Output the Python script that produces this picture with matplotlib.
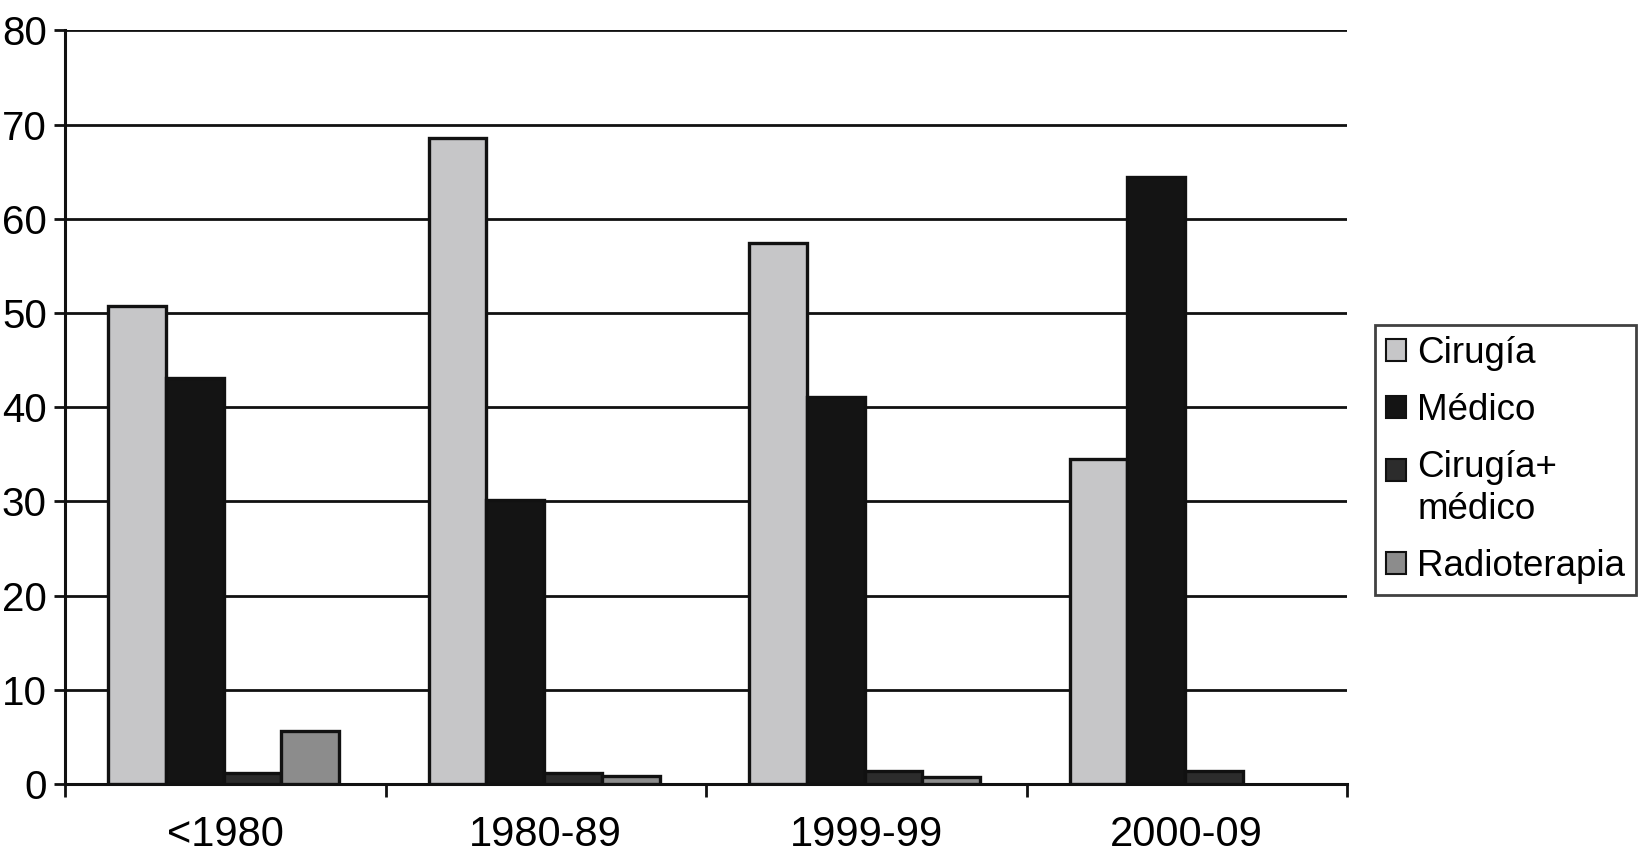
import matplotlib
matplotlib.use("Agg")
import matplotlib.pyplot as plt
import numpy as np

categories = ["<1980", "1980-89", "1999-99", "2000-09"]
series_names = ["Cirugía", "Médico", "Cirugía+\nmédico", "Radioterapia"]
cirugia = [50.7, 68.6, 57.4, 34.5]
medico = [43.1, 30.1, 41.1, 64.4]
cirugia_medico = [1.2, 1.2, 1.4, 1.4]
radioterapia = [5.6, 0.8, 0.7, 0.0]
colors = ["#c6c6c8", "#141414", "#2c2c2c", "#8c8c8c"]

plt.rcParams['font.family'] = ['Liberation Sans', 'DejaVu Sans']

fig = plt.figure(figsize=(16.46, 8.61), dpi=100)
ax = fig.add_axes([65/1646, 1 - 784/861, (1347-65)/1646, (784-30.5)/861])

x = np.arange(len(categories))
width = 0.18
all_series = [cirugia, medico, cirugia_medico, radioterapia]
for i, (vals, name, col) in enumerate(zip(all_series, series_names, colors)):
    offs = (i - 1.5) * width - 0.005
    vals = np.array(vals)
    xs = x + offs
    mask = vals > 0
    ax.bar(xs[mask], vals[mask], width, color=col, edgecolor="#111111",
           linewidth=2.4, label=name, zorder=3)

ax.set_xlim(-0.5, 3.5)
ax.set_ylim(0, 80)
ax.set_yticks(np.arange(0, 81, 10))
ax.yaxis.grid(True, color="#111111", linewidth=2.0, zorder=0)
ax.set_axisbelow(True)
ax.set_xticks(x)
ax.set_xticklabels(categories)
ax.set_xticks(np.arange(-0.5, 3.6, 1.0), minor=True)
ax.tick_params(axis='x', which='major', length=0, pad=22, labelsize=30)
ax.tick_params(axis='x', which='minor', length=9, width=2.0, direction='out', color="#111111")
ax.tick_params(axis='y', length=8, width=2.0, pad=5, labelsize=29, color="#111111")
for s in ["top", "right"]:
    ax.spines[s].set_visible(False)
for s in ["left", "bottom"]:
    ax.spines[s].set_linewidth(2.2)
    ax.spines[s].set_color("#111111")

leg = fig.legend(loc="upper left", bbox_to_anchor=(1375/1646, 1 - 325/861),
                 fontsize=26.5, frameon=True, fancybox=False, edgecolor="#111111",
                 handlelength=0.55, handleheight=0.55, handletextpad=0.3,
                 borderpad=0.3, labelspacing=0.6, borderaxespad=0)
leg.get_frame().set_linewidth(2.0)
for t in leg.get_texts():
    t.set_linespacing(1.25)
for h in leg.legend_handles:
    h.set_linewidth(1.5)
h2 = leg.legend_handles[2]
h2.set_y(h2.get_y() + 14)

fig.savefig("out.png", dpi=100, facecolor="white")
